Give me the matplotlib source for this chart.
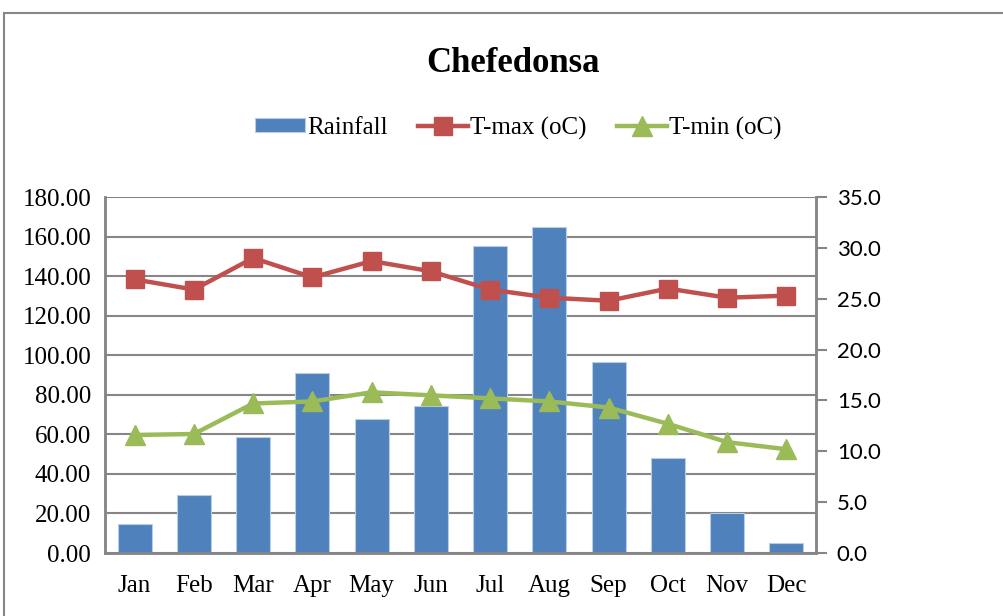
import matplotlib.pyplot as plt
from matplotlib.patches import Rectangle
import numpy as np

months = ["Jan", "Feb", "Mar", "Apr", "May", "Jun", "Jul", "Aug", "Sep", "Oct", "Nov", "Dec"]
rainfall = [14.5, 29.3, 58.7, 91.0, 67.7, 74.3, 155.2, 164.8, 96.4, 48.0, 20.2, 5.1]
tmax = [26.9, 25.9, 29.0, 27.1, 28.7, 27.7, 25.9, 25.1, 24.8, 26.0, 25.1, 25.3]
tmin = [11.6, 11.7, 14.7, 14.9, 15.8, 15.5, 15.2, 14.9, 14.3, 12.7, 10.9, 10.2]

serif = ["Liberation Serif", "DejaVu Serif"]
grey = "#868686"

fig = plt.figure(figsize=(10.04, 6.16), dpi=100)
ax1 = fig.add_axes([105 / 1004, 1 - 553 / 616, (816 - 105) / 1004, (553 - 197) / 616])
ax2 = ax1.twinx()

x = np.arange(len(months))
bars = ax1.bar(x, rainfall, width=0.57, color="#4F81BD", edgecolor="#B9CDE5", linewidth=0.8,
               label="Rainfall", zorder=2)
l1, = ax2.plot(x, tmax, color="#C0504D", lw=3.2, marker="s", markersize=13, label="T-max (oC)")
l2, = ax2.plot(x, tmin, color="#9BBB59", lw=3.2, marker="^", markersize=14, label="T-min (oC)")

ax1.set_xlim(-0.5, 11.5)
ax1.set_ylim(0, 180)
ax1.set_yticks(np.arange(0, 181, 20))
ax1.set_yticklabels([f"{v:.2f}" for v in np.arange(0, 181, 20)], family=serif, fontsize=18)
ax1.set_xticks(x)
ax1.set_xticklabels(months, family=serif, fontsize=18)
ax1.tick_params(axis="y", length=0, pad=10)
ax1.tick_params(axis="x", length=0, pad=16)
ax1.yaxis.grid(True, color=grey, lw=1.5, zorder=0)
ax1.set_axisbelow(True)

ax2.set_ylim(0, 35)
ax2.set_yticks(np.arange(0, 36, 5))
ax2.set_yticklabels([f"{v:.1f}" for v in np.arange(0, 36, 5)], family=["Lato", "DejaVu Sans"], fontsize=16)
ax2.tick_params(axis="y", length=8, width=1.5, color=grey, pad=7)

for a in (ax1, ax2):
    for side, sp in a.spines.items():
        sp.set_color(grey)
        sp.set_linewidth(1.8)
    a.spines["top"].set_visible(False)

fig.text(0.511, 1 - 64 / 616, "Chefedonsa", ha="center", va="center", family=serif,
         fontsize=25, fontweight="bold")

leg = fig.legend([bars, l1, l2], ["Rainfall", "T-max (oC)", "T-min (oC)"], loc="center",
                 bbox_to_anchor=(0.516, 1 - 128 / 616), ncol=3, frameon=False,
                 prop={"family": serif, "size": 18}, handlelength=2.0, handleheight=0.5,
                 handletextpad=0.1, columnspacing=1.2)

fig.patches.append(Rectangle((4 / 1004, -0.1), 1.2, 1 - 13 / 616 + 0.1, transform=fig.transFigure,
                             fill=False, edgecolor=grey, lw=1.5))

fig.savefig("out.png", dpi=100)
